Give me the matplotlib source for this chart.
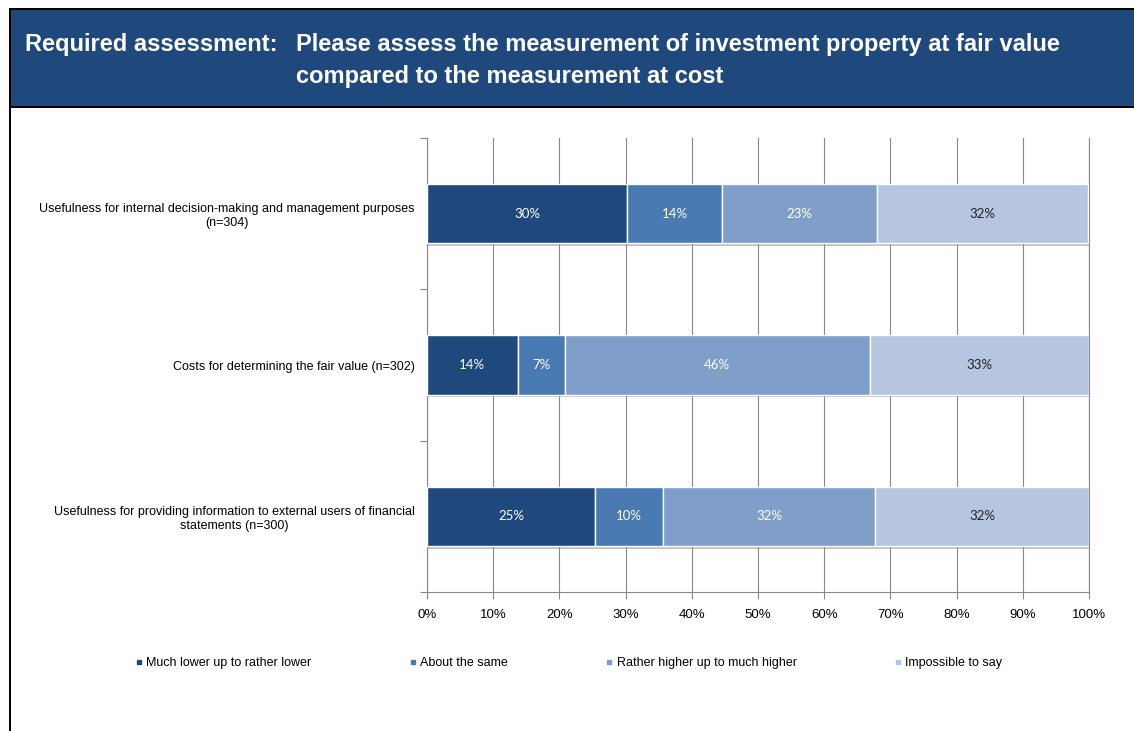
import matplotlib
matplotlib.use("Agg")
import matplotlib.pyplot as plt
import matplotlib.patheffects as pe
from matplotlib import font_manager
from matplotlib.lines import Line2D
from matplotlib.patches import Rectangle
import numpy as np

# survey answers, share of respondents (%)
categories = [
    "Usefulness for internal decision-making and management purposes\n(n=304)",
    "Costs for determining the fair value (n=302)",
    "Usefulness for providing information to external users of financial\nstatements (n=300)",
]
series_names = [
    "Much lower up to rather lower",
    "About the same",
    "Rather higher up to much higher",
    "Impossible to say",
]
much_lower = [30.2, 13.7, 25.4]
about_same = [14.4, 7.1, 10.3]
rather_higher = [23.4, 46.1, 32.0]
impossible = [31.9, 33.1, 32.3]
x_ticks = [0, 10, 20, 30, 40, 50, 60, 70, 80, 90, 100]

colors = ["#1f497d", "#4a7ab2", "#7f9ec9", "#b6c5e0"]
label_colors = ["white", "white", "white", "#222222"]

installed = {f.name for f in font_manager.fontManager.ttflist}
narrow = "Liberation Sans Narrow" if "Liberation Sans Narrow" in installed else "Liberation Sans"
plt.rcParams["font.family"] = [narrow, "DejaVu Sans"]

fig = plt.figure(figsize=(11.34, 7.31), dpi=100)
W, H = 1134, 731

# slide frame and title band
fig.patches.append(Rectangle((11 / W, 1 - 106 / H), 1, 96 / H, transform=fig.transFigure,
                             facecolor="#1f497d", edgecolor="none", zorder=0))
fig.patches.append(Rectangle((9 / W, 1 - 10 / H), 1, 2 / H, transform=fig.transFigure,
                             facecolor="black", edgecolor="none", zorder=1))
fig.patches.append(Rectangle((9 / W, 1 - 108 / H), 1, 2 / H, transform=fig.transFigure,
                             facecolor="black", edgecolor="none", zorder=1))
fig.patches.append(Rectangle((9 / W, 0), 2 / W, 1 - 8 / H, transform=fig.transFigure,
                             facecolor="black", edgecolor="none", zorder=1))

fig.text(25 / W, 1 - 44 / H, "Required assessment:", color="white", fontsize=17,
         fontweight="bold", va="center", ha="left")
fig.text(296 / W, 1 - 44 / H, "Please assess the measurement of investment property at fair value",
         color="white", fontsize=17, fontweight="bold", va="center", ha="left")
fig.text(296 / W, 1 - 77 / H, "compared to the measurement at cost",
         color="white", fontsize=17, fontweight="bold", va="center", ha="left")

ax = fig.add_axes([427 / W, 1 - 592 / H, 662 / W, 454 / H])

y = np.arange(len(categories))
left = np.zeros(len(categories))
all_series = [much_lower, about_same, rather_higher, impossible]
for vals, name, col, tcol in zip(all_series, series_names, colors, label_colors):
    bars = ax.barh(y, vals, left=left, height=0.39, color=col, edgecolor="white",
                   linewidth=1.0, label=name, zorder=3)
    for b in bars:
        b.set_path_effects([pe.SimplePatchShadow(offset=(1, -2), shadow_rgbFace="#888888", alpha=0.5),
                            pe.Normal()])
    for yi, v, l in zip(y, vals, left):
        ax.text(l + v / 2, yi, f"{v:.0f}%", ha="center", va="center", color=tcol,
                fontsize=9.5, family=["Lato", "DejaVu Sans"], zorder=4)
    left = left + np.array(vals)

ax.set_xlim(0, 100)
ax.set_ylim(len(categories) - 0.5, -0.5)
ax.set_xticks(x_ticks)
ax.set_xticklabels([f"{t}%" for t in x_ticks], fontsize=9.5, family=["Liberation Sans", "DejaVu Sans"])
ax.set_yticks(y)
ax.set_yticklabels(categories, fontsize=9)
for lbl in ax.get_yticklabels():
    lbl.set_multialignment("center")
ax.set_yticks(np.arange(-0.5, len(categories)), minor=True)
ax.tick_params(axis="y", which="major", length=0, pad=9)
ax.tick_params(axis="y", which="minor", length=5, color="#888888", width=0.8)
ax.tick_params(axis="x", length=5, color="#888888", width=0.8, pad=7)
ax.grid(axis="x", color="#888888", linewidth=0.8, zorder=0)
ax.set_axisbelow(True)
ax.spines["top"].set_visible(False)
for s in ["left", "bottom", "right"]:
    ax.spines[s].set_color("#888888")
    ax.spines[s].set_linewidth(0.8)
    ax.spines[s].set_zorder(0.5)

handles = [Line2D([], [], linestyle="none", marker="s", markersize=3.5, color=c) for c in colors]
fig.legend(handles, series_names, loc="center left", bbox_to_anchor=(135 / W, 1 - 663 / H),
           ncol=4, frameon=False, fontsize=9, handlelength=0.6, handletextpad=0.3,
           columnspacing=7.8, borderaxespad=0, borderpad=0)

fig.savefig("out.png", dpi=100)
